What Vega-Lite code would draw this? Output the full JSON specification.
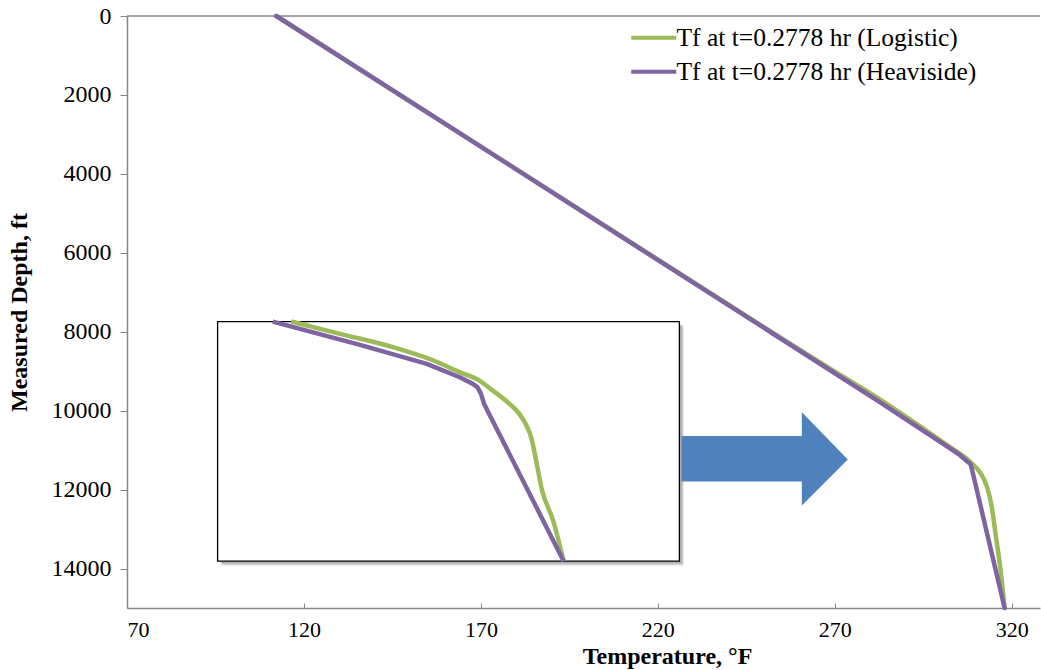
{
  "$schema": "https://vega.github.io/schema/vega-lite/v6.json",
  "width": 913,
  "height": 592,
  "autosize": {"type": "none"},
  "padding": {"left": 127, "top": 16, "right": 1, "bottom": 62},
  "background": "white",
  "config": {
    "view": {"stroke": null},
    "font": "Liberation Serif",
    "axis": {"grid": false, "domainColor": "#868686", "tickColor": "#868686", "labelFont": "Liberation Serif", "titleFont": "Liberation Serif", "labelColor": "#000000", "titleColor": "#000000", "titleFontSize": 24, "titleFontWeight": "bold", "domainWidth": 1.5, "tickWidth": 1}
  },
  "datasets": {
    "curves": [
      {"series": "Tf at t=0.2778 hr (Logistic)", "part": "main", "T": 112.2, "D": 0},
      {"series": "Tf at t=0.2778 hr (Logistic)", "part": "main", "T": 252.0, "D": 8000},
      {"series": "Tf at t=0.2778 hr (Logistic)", "part": "main", "T": 269.8, "D": 9000},
      {"series": "Tf at t=0.2778 hr (Logistic)", "part": "main", "T": 282.5, "D": 9700},
      {"series": "Tf at t=0.2778 hr (Logistic)", "part": "main", "T": 295.8, "D": 10500},
      {"series": "Tf at t=0.2778 hr (Logistic)", "part": "main", "T": 302.2, "D": 10900},
      {"series": "Tf at t=0.2778 hr (Logistic)", "part": "main", "T": 308.3, "D": 11300},
      {"series": "Tf at t=0.2778 hr (Logistic)", "part": "main", "T": 311.3, "D": 11600},
      {"series": "Tf at t=0.2778 hr (Logistic)", "part": "main", "T": 312.9, "D": 11900},
      {"series": "Tf at t=0.2778 hr (Logistic)", "part": "main", "T": 314.4, "D": 12450},
      {"series": "Tf at t=0.2778 hr (Logistic)", "part": "main", "T": 315.4, "D": 13100},
      {"series": "Tf at t=0.2778 hr (Logistic)", "part": "main", "T": 316.8, "D": 14000},
      {"series": "Tf at t=0.2778 hr (Logistic)", "part": "main", "T": 318.0, "D": 15000},
      {"series": "Tf at t=0.2778 hr (Heaviside)", "part": "main", "T": 112.2, "D": 0},
      {"series": "Tf at t=0.2778 hr (Heaviside)", "part": "main", "T": 251.7, "D": 8000},
      {"series": "Tf at t=0.2778 hr (Heaviside)", "part": "main", "T": 282.4, "D": 9763},
      {"series": "Tf at t=0.2778 hr (Heaviside)", "part": "main", "T": 301.3, "D": 10879},
      {"series": "Tf at t=0.2778 hr (Heaviside)", "part": "main", "T": 305.0, "D": 11100},
      {"series": "Tf at t=0.2778 hr (Heaviside)", "part": "main", "T": 308.4, "D": 11361},
      {"series": "Tf at t=0.2778 hr (Heaviside)", "part": "main", "T": 308.7, "D": 11460},
      {"series": "Tf at t=0.2778 hr (Heaviside)", "part": "main", "T": 318.0, "D": 15000},
      {"series": "Tf at t=0.2778 hr (Logistic)", "part": "inset", "T": 116.4, "D": 7742},
      {"series": "Tf at t=0.2778 hr (Logistic)", "part": "inset", "T": 130.5, "D": 8060},
      {"series": "Tf at t=0.2778 hr (Logistic)", "part": "inset", "T": 145.0, "D": 8386},
      {"series": "Tf at t=0.2778 hr (Logistic)", "part": "inset", "T": 155.5, "D": 8690},
      {"series": "Tf at t=0.2778 hr (Logistic)", "part": "inset", "T": 163.9, "D": 9020},
      {"series": "Tf at t=0.2778 hr (Logistic)", "part": "inset", "T": 169.5, "D": 9231},
      {"series": "Tf at t=0.2778 hr (Logistic)", "part": "inset", "T": 173.3, "D": 9485},
      {"series": "Tf at t=0.2778 hr (Logistic)", "part": "inset", "T": 177.5, "D": 9780},
      {"series": "Tf at t=0.2778 hr (Logistic)", "part": "inset", "T": 180.8, "D": 10075},
      {"series": "Tf at t=0.2778 hr (Logistic)", "part": "inset", "T": 182.9, "D": 10380},
      {"series": "Tf at t=0.2778 hr (Logistic)", "part": "inset", "T": 184.3, "D": 10700},
      {"series": "Tf at t=0.2778 hr (Logistic)", "part": "inset", "T": 185.6, "D": 11260},
      {"series": "Tf at t=0.2778 hr (Logistic)", "part": "inset", "T": 187.3, "D": 12020},
      {"series": "Tf at t=0.2778 hr (Logistic)", "part": "inset", "T": 190.4, "D": 12781},
      {"series": "Tf at t=0.2778 hr (Logistic)", "part": "inset", "T": 193.4, "D": 13813},
      {"series": "Tf at t=0.2778 hr (Heaviside)", "part": "inset", "T": 111.2, "D": 7742},
      {"series": "Tf at t=0.2778 hr (Heaviside)", "part": "inset", "T": 135.6, "D": 8326},
      {"series": "Tf at t=0.2778 hr (Heaviside)", "part": "inset", "T": 154.5, "D": 8807},
      {"series": "Tf at t=0.2778 hr (Heaviside)", "part": "inset", "T": 163.9, "D": 9147},
      {"series": "Tf at t=0.2778 hr (Heaviside)", "part": "inset", "T": 167.6, "D": 9315},
      {"series": "Tf at t=0.2778 hr (Heaviside)", "part": "inset", "T": 169.0, "D": 9401},
      {"series": "Tf at t=0.2778 hr (Heaviside)", "part": "inset", "T": 170.0, "D": 9568},
      {"series": "Tf at t=0.2778 hr (Heaviside)", "part": "inset", "T": 170.9, "D": 9822},
      {"series": "Tf at t=0.2778 hr (Heaviside)", "part": "inset", "T": 172.3, "D": 10075},
      {"series": "Tf at t=0.2778 hr (Heaviside)", "part": "inset", "T": 193.4, "D": 13813}
    ],
    "box": [{"T1": 95.6, "T2": 226.1, "D1": 7742, "D2": 13813}],
    "shadow": [
      {"T1": 96.8, "T2": 227.3, "D1": 7860, "D2": 13920, "o": 0.35},
      {"T1": 96.4, "T2": 226.9, "D1": 7820, "D2": 13880, "o": 0.45}
    ],
    "shaft": [{"T1": 226.7, "T2": 261.0, "D1": 10645, "D2": 11793}],
    "head": [
      {"D": 10043, "T": 260.7, "T0": 260.7},
      {"D": 11235, "T": 273.7, "T0": 260.7},
      {"D": 12402, "T": 260.7, "T0": 260.7}
    ],
    "frame": [{"D": 0}]
  },
  "layer": [
    {
      "data": {"name": "frame"},
      "mark": {"type": "rule", "color": "#868686", "strokeWidth": 1.5},
      "encoding": {"y": {"field": "D", "type": "quantitative"}}
    },
    {
      "data": {"name": "curves"},
      "transform": [{"filter": "datum.series === 'Tf at t=0.2778 hr (Logistic)' && datum.part === 'main'"}],
      "mark": {"type": "line", "strokeWidth": 4.5, "strokeJoin": "round", "strokeCap": "round", "interpolate": "monotone"},
      "encoding": {
        "x": {"field": "T", "type": "quantitative", "scale": {"domain": [70, 328], "nice": false, "zero": false}, "axis": {"title": "Temperature, °F", "values": [70, 120, 170, 220, 270, 320], "labelFontSize": 22, "tickSize": -5, "labelPadding": 16, "titlePadding": 4, "titleX": 540}},
        "y": {"field": "D", "type": "quantitative", "scale": {"domain": [0, 15000], "reverse": true, "nice": false}, "axis": {"title": "Measured Depth, ft", "values": [0, 2000, 4000, 6000, 8000, 10000, 12000, 14000], "format": "d", "labelFontSize": 24, "tickSize": 7, "labelPadding": 9, "titlePadding": 20}},
        "color": {"field": "series", "type": "nominal", "scale": {"domain": ["Tf at t=0.2778 hr (Logistic)", "Tf at t=0.2778 hr (Heaviside)"], "range": ["#9BBB59", "#8064A2"]}, "legend": {"title": null, "orient": "none", "legendX": 514, "legendY": 9, "symbolType": "M-3,0H3", "symbolSize": 225, "symbolStrokeWidth": 4, "labelFont": "Liberation Serif", "labelFontSize": 25.5, "labelColor": "#000000", "labelOffset": 10, "rowPadding": 7, "labelLimit": 400}},
        "order": {"field": "D", "type": "quantitative"}
      }
    },
    {
      "data": {"name": "curves"},
      "transform": [{"filter": "datum.series === 'Tf at t=0.2778 hr (Heaviside)' && datum.part === 'main'"}],
      "mark": {"type": "line", "strokeWidth": 4.5, "strokeJoin": "round", "strokeCap": "round"},
      "encoding": {
        "x": {"field": "T", "type": "quantitative"},
        "y": {"field": "D", "type": "quantitative"},
        "color": {"field": "series", "type": "nominal"},
        "order": {"field": "D", "type": "quantitative"}
      }
    },
    {
      "data": {"name": "shadow"},
      "mark": {"type": "rect", "fill": "#8a8a8a"},
      "encoding": {"x": {"field": "T1", "type": "quantitative"}, "x2": {"field": "T2"}, "y": {"field": "D1", "type": "quantitative"}, "y2": {"field": "D2"}, "opacity": {"field": "o", "type": "quantitative", "scale": null}}
    },
    {
      "data": {"name": "box"},
      "mark": {"type": "rect", "fill": "white", "stroke": "#000000", "strokeWidth": 1.3},
      "encoding": {"x": {"field": "T1", "type": "quantitative"}, "x2": {"field": "T2"}, "y": {"field": "D1", "type": "quantitative"}, "y2": {"field": "D2"}}
    },
    {
      "data": {"name": "curves"},
      "transform": [{"filter": "datum.part === 'inset' && datum.series === 'Tf at t=0.2778 hr (Logistic)'"}],
      "mark": {"type": "line", "strokeWidth": 4.5, "strokeJoin": "round", "interpolate": "monotone"},
      "encoding": {
        "x": {"field": "T", "type": "quantitative"},
        "y": {"field": "D", "type": "quantitative"},
        "color": {"field": "series", "type": "nominal"},
        "order": {"field": "D", "type": "quantitative"}
      }
    },
    {
      "data": {"name": "curves"},
      "transform": [{"filter": "datum.part === 'inset' && datum.series === 'Tf at t=0.2778 hr (Heaviside)'"}],
      "mark": {"type": "line", "strokeWidth": 4.5, "strokeJoin": "round"},
      "encoding": {
        "x": {"field": "T", "type": "quantitative"},
        "y": {"field": "D", "type": "quantitative"},
        "color": {"field": "series", "type": "nominal"},
        "order": {"field": "D", "type": "quantitative"}
      }
    },
    {
      "data": {"name": "shaft"},
      "mark": {"type": "rect", "fill": "#4F81BD"},
      "encoding": {"x": {"field": "T1", "type": "quantitative"}, "x2": {"field": "T2"}, "y": {"field": "D1", "type": "quantitative"}, "y2": {"field": "D2"}}
    },
    {
      "data": {"name": "head"},
      "mark": {"type": "area", "orient": "horizontal", "fill": "#4F81BD"},
      "encoding": {"y": {"field": "D", "type": "quantitative"}, "x": {"field": "T", "type": "quantitative"}, "x2": {"field": "T0"}}
    }
  ]
}
